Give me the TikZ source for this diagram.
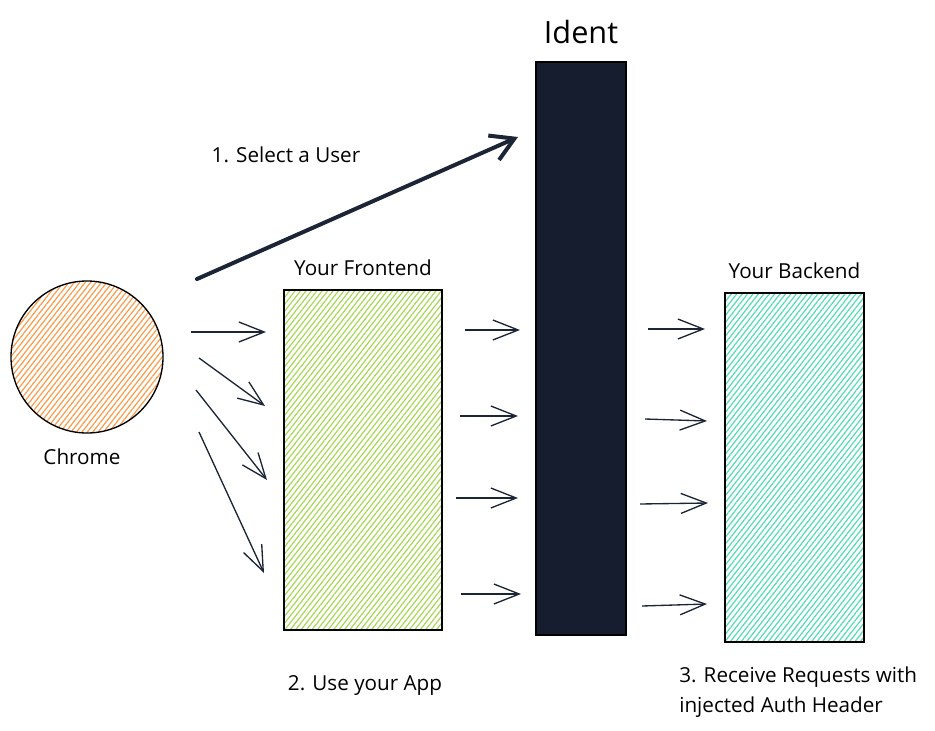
\documentclass[tikz,border=0pt]{standalone}
\usepackage{fontspec}
\setmainfont{Open Sans}
\usetikzlibrary{arrows.meta,patterns.meta,positioning}

\definecolor{ink}{HTML}{1B2536}
\definecolor{identfill}{HTML}{151D2E}
\definecolor{chromefill}{HTML}{FD9A4A}
\definecolor{frontfill}{HTML}{A6D854}
\definecolor{backfill}{HTML}{52DDB0}

\tikzset{
  hatch/.style={draw=black, line width=1pt,
    pattern={Lines[angle=52, distance=3.2pt, line width=0.9pt]}, pattern color=#1},
  lbl/.style={font=\fontsize{15.5}{18}\selectfont, text=black, inner sep=0pt},
  flow/.style={draw=ink, line width=1pt, -{Straight Barb[length=19pt, width=15pt, line width=1pt]}},
  bigflow/.style={draw=ink, line width=3pt, line cap=round, -{Straight Barb[length=17pt, width=20pt, line width=3pt]}}
}

\begin{document}
\begin{tikzpicture}[x=0.75pt, y=-0.75pt]

\path [use as bounding box] (0,0) rectangle (935,731);

% CHROME
\node (chrome) [hatch=chromefill, circle, minimum size=152*0.75pt] at (87,357) {};
\node (chromelbl) [lbl] at (82,457) {Chrome};

% FRONTEND
\node (front) [hatch=frontfill, rectangle, minimum width=158*0.75pt, minimum height=340*0.75pt] at (363,460) {};
\node (frontlbl) [lbl, above=10pt of front] {Your Frontend};

% IDENT
\node (ident) [draw=black, fill=identfill, line width=1pt, minimum width=90*0.75pt, minimum height=573*0.75pt] at (581,348.5) {};
\node (identlbl) [lbl, font=\fontsize{23}{26}\selectfont, above=13pt of ident] {Ident};

% BACKEND
\node (back) [hatch=backfill, rectangle, minimum width=139*0.75pt, minimum height=349*0.75pt] at (794.5,467.5) {};
\node (backlbl) [lbl, above=10pt of back] {Your Backend};

% NOTES
\node (step1) [lbl] at (286,155) {1. Select a User};
\node (step2) [lbl] at (365,685) {2. Use your App};
\node (step3) [lbl, anchor=west, align=left, font=\fontsize{15.5}{23}\selectfont] at (679,692)
  {3. Receive Requests with\\injected Auth Header};

% SELECT
\coordinate (selfrom) at (197,279);
\coordinate (selto) at (518,137);
\draw [bigflow] (selfrom) -- (selto);

% REQUESTS
\foreach \sx/\sy/\ex/\ey [count=\i] in {
  191/332/266/332, 199/358/265/406, 196/390/267/480, 199/432/264/573,
  465/330/520/330, 460/416/518/416, 456/498/518/498, 461/594/521/594,
  648/329/705/329, 645/419/707/421, 640/504/708/503, 642/606/707/604} {
  \coordinate (req\i a) at (\sx,\sy);
  \coordinate (req\i b) at (\ex,\ey);
  \draw [flow] (req\i a) -- (req\i b);
}

\end{tikzpicture}
\end{document}
